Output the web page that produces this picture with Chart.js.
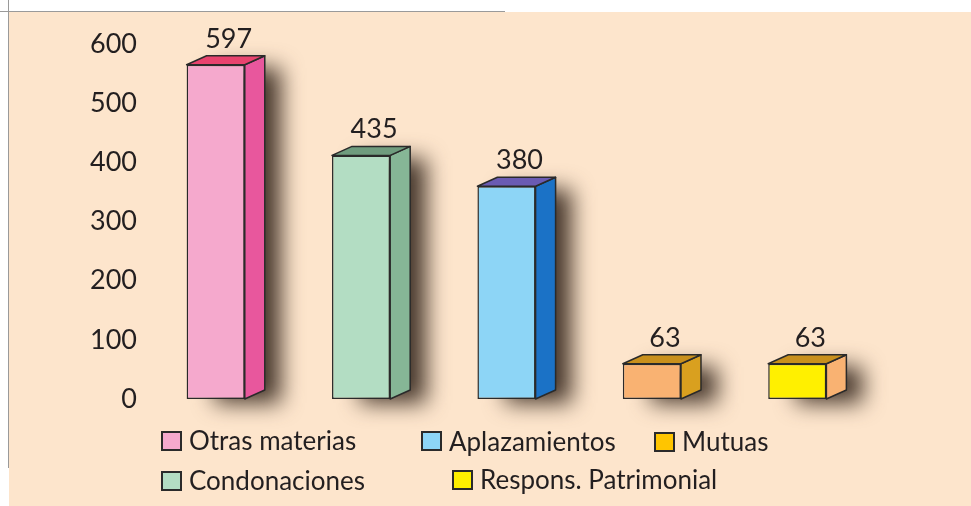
<!DOCTYPE html>
<html>
<head>
<meta charset="utf-8">
<script src="https://cdn.jsdelivr.net/npm/chart.js@4.4.1/dist/chart.umd.min.js"></script>
<style>
  html, body { margin: 0; padding: 0; background: #fff; }
  #wrap { position: relative; width: 971px; height: 506px; overflow: hidden; }
  #panel { position: absolute; left: 9px; top: 12px; right: 0; bottom: 0; background: #FDE5CC; }
  #hline { position: absolute; left: 0; top: 11px; width: 505px; height: 1px; background: #9a9a9a; }
  #vline { position: absolute; left: 8px; top: 0; width: 1px; height: 468px; background: #9a9a9a; }
  canvas { position: absolute; left: 0; top: 0; }
</style>
</head>
<body>
<div id="wrap">
  <div id="panel"></div>
  <div id="hline"></div>
  <div id="vline"></div>
  <canvas id="chart" width="971" height="506"></canvas>
</div>
<script>
const categories = ['Otras materias', 'Condonaciones', 'Aplazamientos', 'Mutuas', 'Respons. Patrimonial'];
const values = [597, 435, 380, 63, 63];
const yMin = 0;
const yMax = 600;
const yStep = 100;

const frontColors = ['#F5A9CD', '#B3DDC3', '#8DD5F6', '#F9B272', '#FFF000'];
const sideColors = ['#E8579D', '#86B696', '#1B72C6', '#D9A01F', '#F9B272'];
const topColors = ['#E8436E', '#6F9C7E', '#6A5BB3', '#C9901C', '#C9901C'];
const legendColors = ['#F5A9CD', '#B3DDC3', '#8DD5F6', '#FFC500', '#FFF000'];

const DEPTH_X = 20;
const DEPTH_Y = 9;
const INK = '#231F20';
const FONT = 'Lato, "Noto Sans", sans-serif';

// legend slots: [category index, box x, box y, baseline]
const legendSlots = [
  [0, 162, 432, 450],
  [2, 422, 432, 451],
  [3, 655, 433, 451],
  [1, 162, 472, 490],
  [4, 453, 471, 489]
];

const box3d = {
  id: 'box3d',
  beforeDatasetsDraw(chart) {
    const ctx = chart.ctx;
    const meta = chart.getDatasetMeta(0);
    ctx.save();
    ctx.filter = 'blur(11px)';
    ctx.fillStyle = 'rgba(60,45,35,0.95)';
    meta.data.forEach(bar => {
      const L = bar.x - bar.width / 2;
      const R = bar.x + bar.width / 2;
      ctx.fillRect(L + 28, bar.y - DEPTH_Y + 12, R - L - 28 + DEPTH_X + 16, bar.base - bar.y + DEPTH_Y - 8);
    });
    ctx.restore();
  },
  afterDatasetsDraw(chart) {
    const ctx = chart.ctx;
    const meta = chart.getDatasetMeta(0);
    ctx.save();
    ctx.lineWidth = 1.5;
    ctx.strokeStyle = '#2a2a2a';
    ctx.lineJoin = 'round';
    meta.data.forEach((bar, i) => {
      const L = bar.x - bar.width / 2;
      const R = bar.x + bar.width / 2;
      const T = bar.y;
      const B = bar.base;
      // side
      ctx.beginPath();
      ctx.moveTo(R, T);
      ctx.lineTo(R + DEPTH_X, T - DEPTH_Y);
      ctx.lineTo(R + DEPTH_X, B - DEPTH_Y);
      ctx.lineTo(R, B);
      ctx.closePath();
      ctx.fillStyle = sideColors[i];
      ctx.fill();
      ctx.stroke();
      // top
      ctx.beginPath();
      ctx.moveTo(L, T);
      ctx.lineTo(L + DEPTH_X, T - DEPTH_Y);
      ctx.lineTo(R + DEPTH_X, T - DEPTH_Y);
      ctx.lineTo(R, T);
      ctx.closePath();
      ctx.fillStyle = topColors[i];
      ctx.fill();
      ctx.stroke();
      // value label
      ctx.fillStyle = INK;
      ctx.font = '27px ' + FONT;
      ctx.textAlign = 'center';
      ctx.textBaseline = 'alphabetic';
      ctx.fillText(String(values[i]), bar.x + 13, T - DEPTH_Y - 8);
    });
    ctx.restore();
  },
  afterDraw(chart) {
    const ctx = chart.ctx;
    ctx.save();
    ctx.font = '26px ' + FONT;
    ctx.textAlign = 'left';
    ctx.textBaseline = 'alphabetic';
    legendSlots.forEach(([idx, bx, by, base]) => {
      ctx.fillStyle = legendColors[idx];
      ctx.fillRect(bx, by, 19, 18);
      ctx.lineWidth = 2;
      ctx.strokeStyle = '#2a2a2a';
      ctx.strokeRect(bx, by, 19, 18);
      ctx.fillStyle = INK;
      ctx.fillText(categories[idx], bx + 27, base);
    });
    ctx.restore();
  }
};

new Chart(document.getElementById('chart').getContext('2d'), {
  type: 'bar',
  data: {
    labels: categories,
    datasets: [{
      data: values,
      yAxisID: 'y2',
      backgroundColor: frontColors,
      borderColor: '#2a2a2a',
      borderWidth: 1.5,
      borderSkipped: false,
      barPercentage: 0.4,
      categoryPercentage: 1
    }]
  },
  options: {
    responsive: false,
    animation: false,
    layout: { padding: { top: 44, right: 101, bottom: 107, left: 0 } },
    plugins: {
      legend: { display: false },
      tooltip: { enabled: false }
    },
    scales: {
      x: { display: false },
      y: {
        position: 'left',
        min: yMin,
        max: yMax,
        ticks: { stepSize: yStep, padding: 6, color: INK, font: { family: FONT, size: 27 } },
        grid: { display: false, drawTicks: false },
        border: { display: false },
        afterFit(scale) { scale.width = 143; }
      },
      // bars are drawn a little shorter than the printed axis, as in the source picture
      y2: { display: false, min: 0, max: 634 }
    }
  },
  plugins: [box3d]
});
</script>
</body>
</html>
